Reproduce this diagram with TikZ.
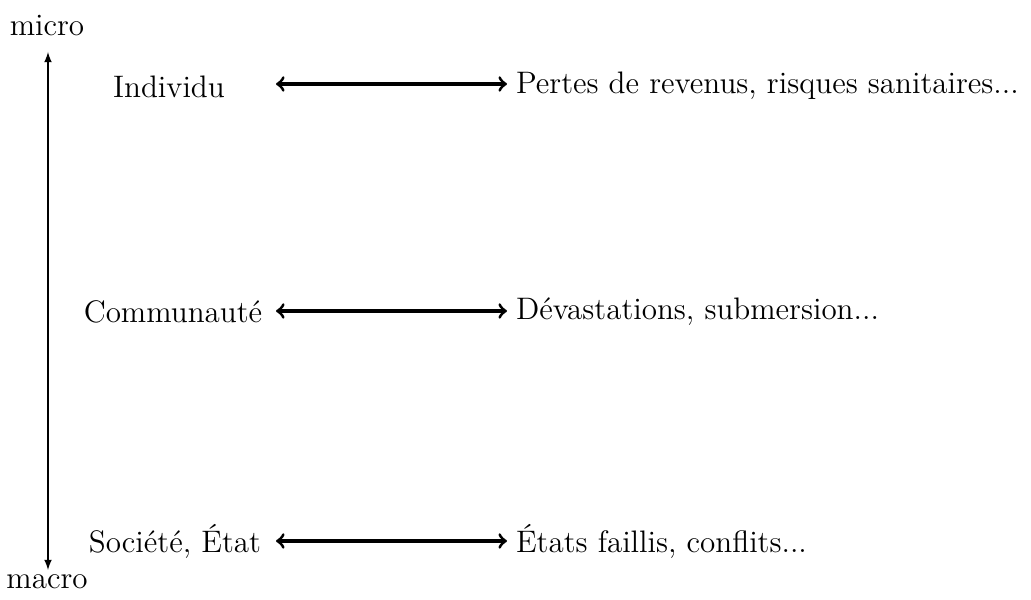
\documentclass[tikz,border=0pt]{standalone}
\usepackage{fontspec}
\tikzset{>=latex}
\tikzset{
  every node/.style = {font=\fontsize{12.2}{14}\selectfont},
  level/.style = {anchor=center},
  effect/.style = {anchor=west},
  link/.style = {<->,>=to,very thick}
}

\begin{document}
\begin{tikzpicture}[x=0.0138cm,y=-0.0138cm]
  \useasboundingbox (0,0) rectangle (1031,600);
  \node (micro) at (47,26) {micro};
  \node (macro) at (47,582) {macro};
  \coordinate (top) at (48,52);
  \coordinate (bot) at (48,570);
  \draw[<->] (top) -- (bot);
  \node[level] (indiv) at (169,87) {Individu};
  \node[level] (comm) at (173,312) {Communauté};
  \node[level] (soc) at (175,541) {Société, État};
  \node[effect] (pertes) at (507,86) {Pertes de revenus, risques sanitaires...};
  \node[effect] (devast) at (507,312) {Dévastations, submersion...};
  \node[effect] (faillis) at (507,541) {États faillis, conflits...};
  \coordinate (s1) at (276,84);
  \coordinate (s2) at (276,311);
  \coordinate (s3) at (276,541);
  \draw[link] (s1) -- (s1 -| pertes.west);
  \draw[link] (s2) -- (s2 -| devast.west);
  \draw[link] (s3) -- (s3 -| faillis.west);
\end{tikzpicture}
\end{document}
